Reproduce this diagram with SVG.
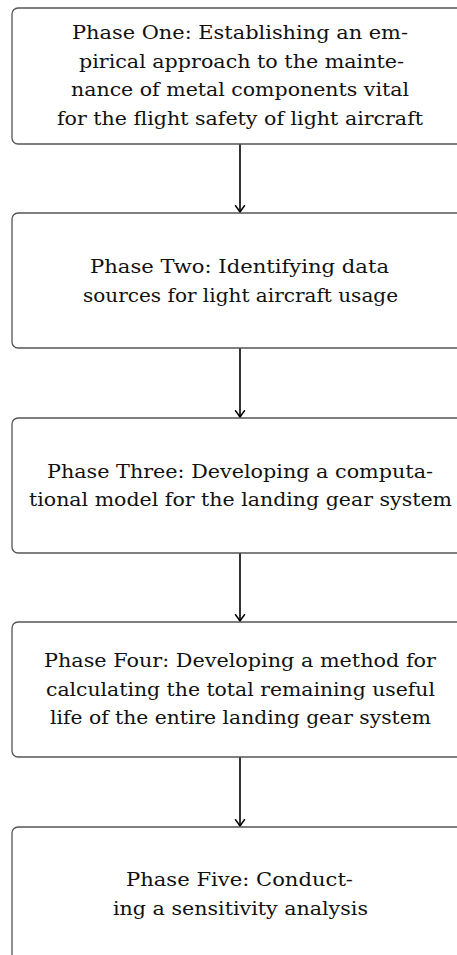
<svg xmlns="http://www.w3.org/2000/svg" width="457" height="955" viewBox="0 0 457 955">
<style>
.box{fill:#fff;stroke:#555;stroke-width:1.3}
.t{font-family:"DejaVu Serif",serif;font-size:19px;fill:#111;text-anchor:middle}
.c{stroke:#000;stroke-width:1.6;fill:none}
</style>
<defs>
<marker id="ah" markerUnits="userSpaceOnUse" markerWidth="14" markerHeight="14" viewBox="-8 -7 9 14" refX="0" refY="0" orient="auto">
<path d="M-6.5,-4.5 Q-2.2,-1.1 0,0 Q-2.2,1.1 -6.5,4.5" fill="none" stroke="#000" stroke-width="1.5" stroke-linecap="round"/>
</marker>
</defs>
<rect width="457" height="955" fill="#fff"/>
<g id="connectors">
<path class="c" d="M240,144 L240,212.2" marker-end="url(#ah)"/>
<path class="c" d="M240,348 L240,417.2" marker-end="url(#ah)"/>
<path class="c" d="M240,553 L240,621.2" marker-end="url(#ah)"/>
<path class="c" d="M240,757 L240,826.2" marker-end="url(#ah)"/>
</g>
<g id="phase1">
<rect class="box" x="12" y="8" width="456" height="136" rx="6"/>
<text class="t" x="240" y="39" textLength="336" lengthAdjust="spacingAndGlyphs">Phase One:  Establishing an em-</text>
<text class="t" x="241.5" y="67.5" textLength="325" lengthAdjust="spacingAndGlyphs">pirical approach to the mainte-</text>
<text class="t" x="240" y="96" textLength="338" lengthAdjust="spacingAndGlyphs">nance of metal components vital</text>
<text class="t" x="240" y="124.5" textLength="366" lengthAdjust="spacingAndGlyphs">for the flight safety of light aircraft</text>
</g>
<g id="phase2">
<rect class="box" x="12" y="213" width="456" height="135" rx="6"/>
<text class="t" x="239.5" y="273" textLength="299" lengthAdjust="spacingAndGlyphs">Phase Two:  Identifying data</text>
<text class="t" x="240.5" y="301.5" textLength="315" lengthAdjust="spacingAndGlyphs">sources for light aircraft usage</text>
</g>
<g id="phase3">
<rect class="box" x="12" y="418" width="456" height="135" rx="6"/>
<text class="t" x="240" y="477.5" textLength="386" lengthAdjust="spacingAndGlyphs">Phase Three:  Developing a computa-</text>
<text class="t" x="240.5" y="506" textLength="423" lengthAdjust="spacingAndGlyphs">tional model for the landing gear system</text>
</g>
<g id="phase4">
<rect class="box" x="12" y="622" width="456" height="135" rx="6"/>
<text class="t" x="240" y="667" textLength="392" lengthAdjust="spacingAndGlyphs">Phase Four:  Developing a method for</text>
<text class="t" x="240.5" y="695.5" textLength="389" lengthAdjust="spacingAndGlyphs">calculating the total remaining useful</text>
<text class="t" x="240.5" y="724" textLength="381" lengthAdjust="spacingAndGlyphs">life of the entire landing gear system</text>
</g>
<g id="phase5">
<rect class="box" x="12" y="827" width="456" height="135" rx="6"/>
<text class="t" x="239.5" y="886" textLength="227" lengthAdjust="spacingAndGlyphs">Phase Five:  Conduct-</text>
<text class="t" x="240.5" y="914.5" textLength="255" lengthAdjust="spacingAndGlyphs">ing a sensitivity analysis</text>
</g>
</svg>
